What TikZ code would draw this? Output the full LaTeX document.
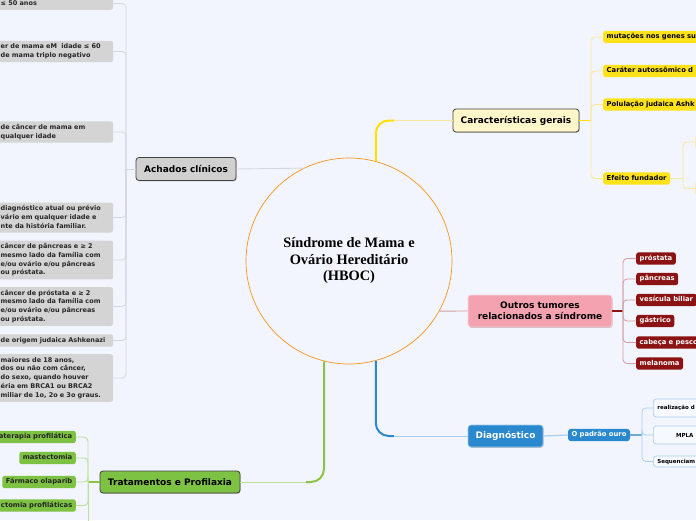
\documentclass[tikz,border=0pt]{standalone}
\usepackage{fontspec}
\setmainfont{DejaVu Sans}
\newfontfamily\titlefont{Liberation Serif}
\usetikzlibrary{shadows,calc}
\definecolor{bg}{HTML}{F2F5FD}
\definecolor{leafgrey}{HTML}{D4D4D4}
\definecolor{achgrey}{HTML}{D0D0D0}
\definecolor{greyline}{HTML}{D3D7E0}
\definecolor{caryel}{HTML}{FFF6C9}
\definecolor{yel}{HTML}{FFE21A}
\definecolor{yelmain}{HTML}{FFE000}
\definecolor{yelpale}{HTML}{F9E89E}
\definecolor{yelbox}{HTML}{FFF8D2}
\definecolor{pinkfill}{HTML}{F4A2B0}
\definecolor{pinkborder}{HTML}{FAD3DA}
\definecolor{darkred}{HTML}{8C1313}
\definecolor{redline}{HTML}{D29CA2}
\definecolor{blu}{HTML}{2A88CE}
\definecolor{blupale}{HTML}{A9CEEF}
\definecolor{bluebox}{HTML}{F6F9FF}
\definecolor{grn}{HTML}{7DC242}
\definecolor{grnmain}{HTML}{8BC34A}
\definecolor{grnpale}{HTML}{BCDF9B}
\definecolor{orng}{HTML}{F7941D}
\tikzset{
  leafbase/.style={font=\bfseries\fontsize{6.8}{8.8}\selectfont, rounded corners=2.5pt,
    inner xsep=3.5pt, inner ysep=1.8pt, execute at begin node=\strut, execute at end node=\strut},
  greyleaf/.style={leafbase, fill=leafgrey, text=black!85, font=\bfseries\fontsize{6.5}{8.8}\selectfont,
    text width=109pt, align=left, anchor=west},
  yelleaf/.style={leafbase, fill=yel, text=black, anchor=west},
  redleaf/.style={leafbase, fill=darkred, text=white, anchor=west},
  grnleaf/.style={leafbase, fill=grn, text=black!85, anchor=east},
  bluleaf/.style={draw=blupale, line width=0.7pt, fill=bluebox, rounded corners=3pt, anchor=west,
    font=\bfseries\fontsize{5.5}{7}\selectfont, inner xsep=4pt, inner ysep=1pt},
  efleaf/.style={draw=yelpale, line width=0.7pt, fill=yelbox, rounded corners=2.5pt, anchor=west,
    minimum width=22pt, minimum height=12pt},
  mainbox/.style={draw=black!75, line width=0.8pt, rounded corners=3pt,
    font=\bfseries\fontsize{9}{11}\selectfont, inner xsep=6pt, minimum height=23pt,
    drop shadow={shadow xshift=0.6pt, shadow yshift=-0.9pt, opacity=0.3, fill=black!70}},
  gbranch/.style={draw=greyline, line width=0.8pt, rounded corners=4pt},
  ybranch/.style={draw=yelpale, line width=0.9pt, rounded corners=4pt},
  rbranch/.style={draw=redline, line width=0.8pt, rounded corners=4pt},
  bbranch/.style={draw=blupale, line width=0.8pt, rounded corners=4pt},
  nbranch/.style={draw=grnpale, line width=0.9pt, rounded corners=4pt},
}
\begin{document}
\begin{tikzpicture}[x=1pt,y=-1pt]
\fill[bg] (0,0) rectangle (696,520);
\useasboundingbox (0,0) rectangle (696,520);

% central topic
\node[circle, draw=orng, line width=0.7pt, minimum size=206pt, inner sep=0pt, align=center,
  font=\titlefont\bfseries\fontsize{14.4}{16.5}\selectfont] (hub) at (349,261)
  {Síndrome de Mama e\\Ovário Hereditário\\(HBOC)};

% main topics
\node[mainbox, fill=achgrey, minimum width=100pt] (ach) at (186,169) {Achados clínicos};
\node[mainbox, fill=caryel, minimum width=126pt] (car) at (516,120.5) {Características gerais};
\node[mainbox, fill=grn, minimum width=140pt, minimum height=22pt] (trat) at (170,482) {Tratamentos e Profilaxia};
\node[mainbox, fill=pinkfill, draw=pinkborder, line width=0.6pt, minimum width=144pt, minimum height=32pt,
  align=center] (out) at (540,311) {Outros tumores\\relacionados a síndrome};
\node[mainbox, fill=blu, draw=white!55!blu, line width=0.6pt, text=white, minimum width=75pt,
  minimum height=22pt] (diag) at (505.5,436) {Diagnóstico};

% trunk coordinates
\coordinate (tA) at (126,0);
\coordinate (tC) at (591,0);
\coordinate (tE) at (683,0);
\coordinate (tO) at (623,0);
\coordinate (tP) at (642,0);
\coordinate (tG) at (88,0);

% Achados clinicos leaves
\node[greyleaf, anchor=south west] (a1) at (-3,10) {≤ 50 anos};
\node[greyleaf] (a2) at (-3,51.5) {er de mama eM\ \ idade ≤ 60\\de mama triplo negativo};
\node[greyleaf] (a3) at (-3,132) {de câncer de mama em\\qualquer idade};
\node[greyleaf] (a4) at (-3,217.5) {diagnóstico atual ou prévio\\vário em qualquer idade e\\nte da história familiar.};
\node[greyleaf] (a5) at (-3,260) {câncer de pâncreas e ≥ 2\\mesmo lado da família com\\e/ou ovário e/ou pâncreas\\ou próstata.};
\node[greyleaf] (a6) at (-3,306.5) {câncer de próstata e ≥ 2\\mesmo lado da família com\\e/ou ovário e/ou pâncreas\\ou próstata.};
\node[greyleaf] (a7) at (-3,340.5) {de origem judaica Ashkenazi};
\node[greyleaf] (a8) at (-3,378) {maiores de 18 anos,\\dos ou não com câncer,\\do sexo, quando houver\\éria em BRCA1 ou BRCA2\\miliar de 1o, 2o e 3o graus.};

% Caracteristicas leaves
\node[yelleaf, text width=120pt, align=left] (c1) at (603,37) {mutações nos genes su};
\node[yelleaf, text width=120pt, align=left] (c2) at (603,71) {Caráter autossômico d};
\node[yelleaf, text width=120pt, align=left] (c3) at (603,104.5) {Polulação judaica Ashk};
\node[yelleaf] (ef) at (603,178.5) {Efeito fundador};
\node[efleaf] (ef1) at (695,142) {};
\node[efleaf] (ef2) at (695,188.5) {};

% Outros tumores leaves
\node[redleaf] (r1) at (636,258.5) {próstata};
\node[redleaf] (r2) at (636,279) {pâncreas};
\node[redleaf] (r3) at (636,300) {vesícula biliar};
\node[redleaf] (r4) at (636,321) {gástrico};
\node[redleaf, text width=75pt, align=left] (r5) at (636,342.5) {cabeça e pesco};
\node[redleaf] (r6) at (636,363.5) {melanoma};

% Diagnostico
\node[leafbase, fill=blu, text=white, rounded corners=3pt] (pad) at (599,435) {O padrão ouro};
\node[bluleaf, text width=60pt, align=left, minimum height=18pt] (b1) at (653,408) {realização d};
\node[bluleaf, text width=55pt, align=center, minimum height=18pt] (b2) at (653,435) {MPLA};
\node[bluleaf, text width=60pt, align=left, minimum height=11pt] (b3) at (653,461.5) {Sequenciam};

% Tratamentos leaves
\node[grnleaf, text width=100pt, align=right] (g1) at (76,437) {aterapia profilática};
\node[grnleaf] (g2) at (76,458) {mastectomia};
\node[grnleaf] (g3) at (76,482) {Fármaco olaparib};
\node[grnleaf, text width=100pt, align=right] (g4) at (76,505.5) {ctomia profiláticas};
\coordinate (gend) at (88,526);

% ---- connectors from the central topic
\draw[greyline, line width=0.9pt] (ach.east) -- (hub.116.7);
\coordinate (yk) at ($(hub.75.4 |- car.west)+(18,0)$);
\draw[yelmain, line width=2pt, rounded corners=13pt] (hub.75.4) -- (hub.75.4 |- car.west) -- (yk);
\draw[yelpale, line width=1pt] (yk) -- (car.west);
\coordinate (bk) at ($(hub.-75.4 |- diag.west)+(18,0)$);
\draw[blu, line width=2pt, rounded corners=13pt] (hub.-75.4) -- (hub.-75.4 |- diag.west) -- (bk);
\draw[blupale, line width=1pt] (bk) -- (diag.west);
\coordinate (gk) at ($(hub.-104.6 |- trat.east)+(-18,0)$);
\draw[grnmain, line width=2pt, rounded corners=13pt] (hub.-104.6) -- (hub.-104.6 |- trat.east) -- (gk);
\draw[grnpale, line width=1pt] (gk) -- (trat.east);
\draw[redline, line width=0.9pt] (hub.-29) -- (out.west);

% ---- Achados branches
\draw[gbranch] (ach.west) -- (ach.west -| tA);
\foreach \c in {a1,a2,a3,a4,a5,a6,a7,a8}
  \draw[gbranch] (ach.west -| tA) -- (tA |- \c.east) -- (\c.east);

% ---- Caracteristicas branches
\draw[yelmain, line width=1.5pt] (car.east) -- (car.east -| tC);
\foreach \c in {c1,c2,c3,ef}
  \draw[ybranch] (car.east -| tC) -- (tC |- \c.west) -- (\c.west);
\draw[ybranch] (ef.east) -- (ef.east -| tE);
\foreach \c in {ef1,ef2}
  \draw[ybranch] (ef.east -| tE) -- (tE |- \c.west) -- (\c.west);

% ---- Outros tumores branches
\draw[darkred, line width=1.5pt] (out.east) -- (out.east -| tO);
\foreach \c in {r1,r2,r3,r4,r5,r6}
  \draw[rbranch] (out.east -| tO) -- (tO |- \c.west) -- (\c.west);

% ---- Diagnostico branches
\draw[blupale, line width=1.2pt] (diag.east) -- (pad.west);
\draw[blu!70, line width=1.2pt] (pad.east) -- (pad.east -| tP);
\foreach \c in {b1,b2,b3}
  \draw[bbranch] (pad.east -| tP) -- (tP |- \c.west) -- (\c.west);

% ---- Tratamentos branches
\draw[grnmain, line width=1.2pt] (trat.west) -- (trat.west -| tG);
\foreach \c in {g1,g2,g3,g4}
  \draw[nbranch] (trat.west -| tG) -- (tG |- \c.east) -- (\c.east);
\draw[nbranch] (trat.west -| tG) -- (gend);
\end{tikzpicture}
\end{document}
